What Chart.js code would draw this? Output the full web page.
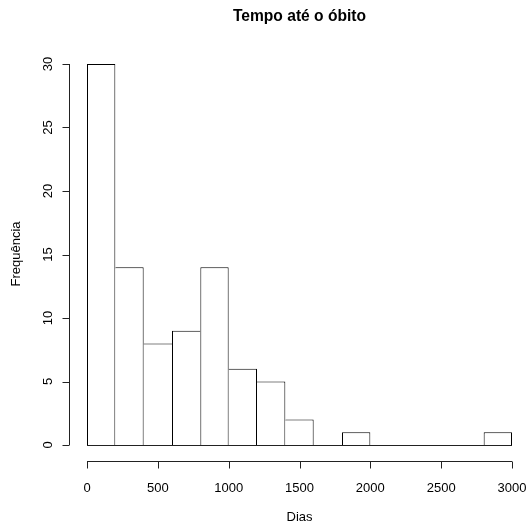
<!DOCTYPE html>
<html lang="pt">
<head>
  <meta charset="UTF-8">
  <title>Tempo até o óbito</title>
  <script src="https://cdn.jsdelivr.net/npm/chart.js"></script>
  <style>
    html, body { margin: 0; padding: 0; background: #fff; }
    #wrap { width: 528px; height: 524px; position: relative; }
  </style>
</head>
<body>
  <div id="wrap"><canvas id="hist"></canvas></div>

  <script>
    // histogram bins (days) and counts
    const binEdges = [0, 200, 400, 600, 800, 1000, 1200, 1400, 1600, 1800, 2000, 2200, 2400, 2600, 2800, 3000];
    const counts = [30, 14, 8, 9, 14, 6, 5, 2, 0, 1, 0, 0, 0, 0, 1];
    const xTicks = [0, 500, 1000, 1500, 2000, 2500, 3000];
    const yTicks = [0, 5, 10, 15, 20, 25, 30];
    const titleText = 'Tempo até o óbito';
    const xLabel = 'Dias';
    const yLabel = 'Frequência';

    const points = counts.map((c, i) => ({ x: (binEdges[i] + binEdges[i + 1]) / 2, y: c }));

    const LINE = '#222';
    const FONT = '"Liberation Sans", Arial, Helvetica, sans-serif';

    // R style: only draw the edge of the taller bar at each shared boundary
    function sideWidths(ctx) {
      const i = ctx.dataIndex;
      const h = counts[i];
      const prev = i > 0 ? counts[i - 1] : 0;
      const next = i < counts.length - 1 ? counts[i + 1] : 0;
      return {
        top: 1,
        bottom: 0,
        left: h >= prev ? 1 : 0,
        right: h > next ? 1 : 0
      };
    }

    // axes, labels and title drawn like base R graphics
    const rAxes = {
      id: 'rAxes',
      afterDraw(chart) {
        const { ctx, scales: { x, y } } = chart;
        ctx.save();
        ctx.strokeStyle = LINE;
        ctx.lineWidth = 1;
        ctx.fillStyle = '#000';

        // baseline under all bins
        const y0 = Math.round(y.getPixelForValue(0)) + 0.5;
        ctx.beginPath();
        ctx.moveTo(x.getPixelForValue(binEdges[0]), y0);
        ctx.lineTo(x.getPixelForValue(binEdges[binEdges.length - 1]), y0);
        ctx.stroke();

        // x axis
        const ax = 461.5;
        ctx.beginPath();
        ctx.moveTo(x.getPixelForValue(xTicks[0]), ax);
        ctx.lineTo(x.getPixelForValue(xTicks[xTicks.length - 1]), ax);
        xTicks.forEach(t => {
          const px = Math.round(x.getPixelForValue(t)) + 0.5;
          ctx.moveTo(px, ax);
          ctx.lineTo(px, ax + 7);
        });
        ctx.stroke();
        ctx.font = '13px ' + FONT;
        ctx.textAlign = 'center';
        ctx.textBaseline = 'middle';
        xTicks.forEach(t => ctx.fillText(String(t), x.getPixelForValue(t), 488));

        // y axis
        const ay = 69.5;
        ctx.beginPath();
        ctx.moveTo(ay, y.getPixelForValue(yTicks[0]));
        ctx.lineTo(ay, y.getPixelForValue(yTicks[yTicks.length - 1]));
        yTicks.forEach(t => {
          const py = Math.round(y.getPixelForValue(t)) + 0.5;
          ctx.moveTo(ay, py);
          ctx.lineTo(ay - 7, py);
        });
        ctx.stroke();
        yTicks.forEach(t => {
          ctx.save();
          ctx.translate(48, y.getPixelForValue(t));
          ctx.rotate(-Math.PI / 2);
          ctx.fillText(String(t), 0, 0);
          ctx.restore();
        });

        // axis titles
        ctx.fillText(xLabel, (x.left + x.right) / 2, 517);
        ctx.save();
        ctx.translate(16, 254);
        ctx.rotate(-Math.PI / 2);
        ctx.fillText(yLabel, 0, 0);
        ctx.restore();

        // main title
        ctx.font = 'bold 15.6px ' + FONT;
        ctx.fillText(titleText, (x.left + x.right) / 2, 17);
        ctx.restore();
      }
    };

    new Chart(document.getElementById('hist').getContext('2d'), {
      type: 'bar',
      data: {
        datasets: [{
          data: points,
          backgroundColor: '#fff',
          borderColor: '#000',
          borderWidth: sideWidths,
          borderSkipped: false,
          inflateAmount: 0,
          barPercentage: 1,
          categoryPercentage: 1
        }]
      },
      options: {
        responsive: true,
        maintainAspectRatio: false,
        animation: false,
        layout: { padding: { left: 87, right: 16, top: 64, bottom: 79 } },
        plugins: { legend: { display: false }, tooltip: { enabled: false }, title: { display: false } },
        scales: {
          x: { type: 'linear', min: 0, max: 3000, offset: false, display: false },
          y: { type: 'linear', min: 0, max: 30, display: false }
        }
      },
      plugins: [rAxes]
    });
  </script>
</body>
</html>
